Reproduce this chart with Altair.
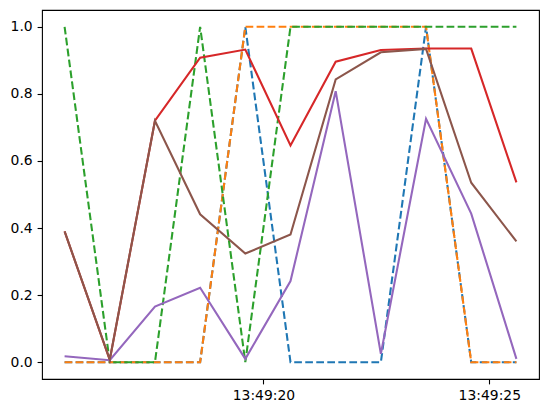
import altair as alt
import pandas as pd

times = ["13:49:15.6", "13:49:16.6", "13:49:17.6", "13:49:18.6", "13:49:19.6",
         "13:49:20.6", "13:49:21.6", "13:49:22.6", "13:49:23.6", "13:49:24.6", "13:49:25.6"]
s_blue = [0, 0, 0, 0, 1, 0, 0, 0, 1, 0, 0]
s_orange = [0, 0, 0, 0, 1, 1, 1, 1, 1, 0, 0]
s_green = [1, 0, 0, 1, 0, 1, 1, 1, 1, 1, 1]
s_red = [0.39, 0.007, 0.72, 0.908, 0.932, 0.646, 0.896, 0.931, 0.935, 0.935, 0.536]
s_purple = [0.018, 0.006, 0.166, 0.222, 0.01, 0.242, 0.808, 0.025, 0.726, 0.443, 0.01]
s_brown = [0.39, 0.008, 0.72, 0.441, 0.324, 0.381, 0.843, 0.924, 0.934, 0.535, 0.36]
tick_values = [20, 25]

series = [
    ("s0", s_blue, "#1f77b4", True),
    ("s1", s_orange, "#ff7f0e", True),
    ("s2", s_green, "#2ca02c", True),
    ("s3", s_red, "#d62728", False),
    ("s4", s_purple, "#9467bd", False),
    ("s5", s_brown, "#8c564b", False),
]

def secs(t):
    h, m, s = t.split(":")
    return float(s)

xs = [secs(t) for t in times]
x0, x1 = xs[0], xs[-1]
span = x1 - x0
xdom = [x0 - 0.05 * span, x1 + 0.05 * span]

rows = []
for name, vals, col, dashed in series:
    for x, v in zip(xs, vals):
        rows.append({"t": x, "v": v, "s": name})
df = pd.DataFrame(rows)

xenc = alt.X("t:Q", scale=alt.Scale(domain=xdom, nice=False, zero=False),
             axis=alt.Axis(values=tick_values, labelExpr="'13:49:' + format(datum.value, '02d')",
                           title=None, grid=False))
yenc = alt.Y("v:Q", scale=alt.Scale(domain=[-0.05, 1.05], nice=False, zero=False),
             axis=alt.Axis(values=[0, 0.2, 0.4, 0.6, 0.8, 1.0], format=".1f", title=None, grid=False))

layers = []
for name, vals, col, dashed in series:
    kw = dict(color=col, strokeWidth=2.08, clip=True)
    if dashed:
        kw["strokeDash"] = [7.7, 3.33]
    layers.append(
        alt.Chart(df).transform_filter(alt.datum.s == name).mark_line(**kw).encode(x=xenc, y=yenc)
    )

chart = alt.layer(*layers).properties(
    width=497, height=369,
    autosize=alt.AutoSizeParams(type="none"),
    padding={"left": 42, "top": 10, "right": 8, "bottom": 34},
    background="white",
).configure_view(stroke="black", strokeWidth=1.1).configure_axis(
    domain=False, tickColor="black", tickSize=4.9, tickWidth=1.1, labelPadding=4.9,
    labelFont="DejaVu Sans", labelFontSize=13.9, labelColor="black",
)

chart.save("out.html", embed_options={"renderer": "svg", "actions": False})
